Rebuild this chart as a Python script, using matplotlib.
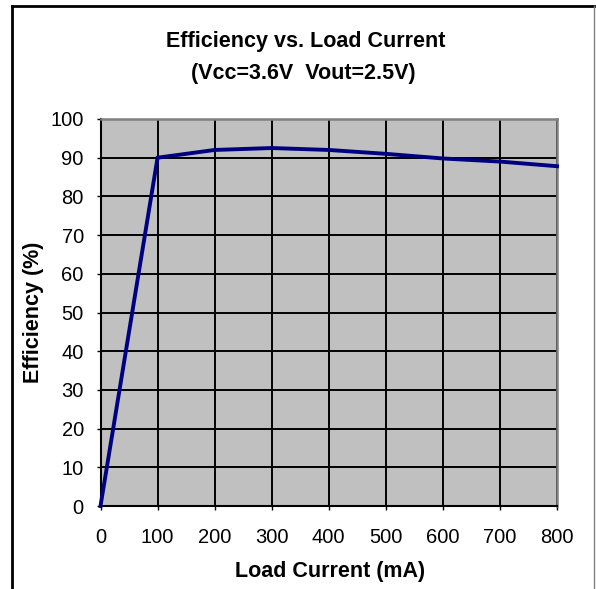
import matplotlib
matplotlib.use("Agg")
import matplotlib.pyplot as plt
from matplotlib.lines import Line2D

load_current = [0, 100, 200, 300, 400, 500, 600, 700, 800]
efficiency = [0, 90, 92, 92.5, 92, 91, 89.8, 89, 87.8]
x_ticks = [0, 100, 200, 300, 400, 500, 600, 700, 800]
y_ticks = [0, 10, 20, 30, 40, 50, 60, 70, 80, 90, 100]
title_lines = ["Efficiency vs. Load Current", "(Vcc=3.6V  Vout=2.5V)"]

plt.rcParams['font.family'] = ['Liberation Sans', 'DejaVu Sans']

W, H = 596, 589
fig = plt.figure(figsize=(W / 100, H / 100), dpi=100)
fig.patch.set_facecolor('white')

# outer frame
fig.add_artist(Line2D([12 / W, 12 / W], [0, 1 - 6 / H], color='black', lw=2, transform=fig.transFigure))
fig.add_artist(Line2D([12 / W, 594 / W], [1 - 6 / H, 1 - 6 / H], color='black', lw=2, transform=fig.transFigure))
fig.add_artist(Line2D([594 / W, 594 / W], [0, 1 - 6 / H], color='#808080', lw=1, transform=fig.transFigure))

left, right, top, bottom = 100.5, 557, 119, 506
ax = fig.add_axes([left / W, 1 - bottom / H, (right - left) / W, (bottom - top) / H])
ax.set_facecolor('#C0C0C0')

ax.plot(load_current, efficiency, color='#000080', lw=2.8, solid_joinstyle='miter', clip_on=False, zorder=3)

ax.set_xlim(0, 800)
ax.set_ylim(0, 100)
ax.set_xticks(x_ticks)
ax.set_yticks(y_ticks)
ax.grid(True, color='black', lw=1.4, zorder=1)
ax.set_axisbelow(True)

for s in ['top', 'right']:
    ax.spines[s].set_color('#808080')
    ax.spines[s].set_linewidth(1.8)
for s in ['left', 'bottom']:
    ax.spines[s].set_color('black')
    ax.spines[s].set_linewidth(1.5)

ax.tick_params(axis='both', direction='out', length=3, width=1, labelsize=14.5, colors='black')
ax.tick_params(axis='x', pad=13)
ax.tick_params(axis='y', pad=9)

ax.set_xlabel("Load Current (mA)", fontsize=15.5, fontweight='bold')
ax.set_ylabel("Efficiency (%)", fontsize=15.5, fontweight='bold')
ax.xaxis.set_label_coords((330 - left) / (right - left), (bottom - 572) / (bottom - top))
ax.xaxis.label.set_va('center')
ax.yaxis.set_label_coords((34 - left) / (right - left), 0.5)
ax.yaxis.label.set_va('center')
ax.yaxis.label.set_ha('center')

fig.text(306 / W, 1 - 41 / H, title_lines[0], ha='center', va='center', fontsize=15.5, fontweight='bold')
fig.text(303 / W, 1 - 73 / H, title_lines[1], ha='center', va='center', fontsize=15.5, fontweight='bold')

fig.savefig("out.png", dpi=100)
